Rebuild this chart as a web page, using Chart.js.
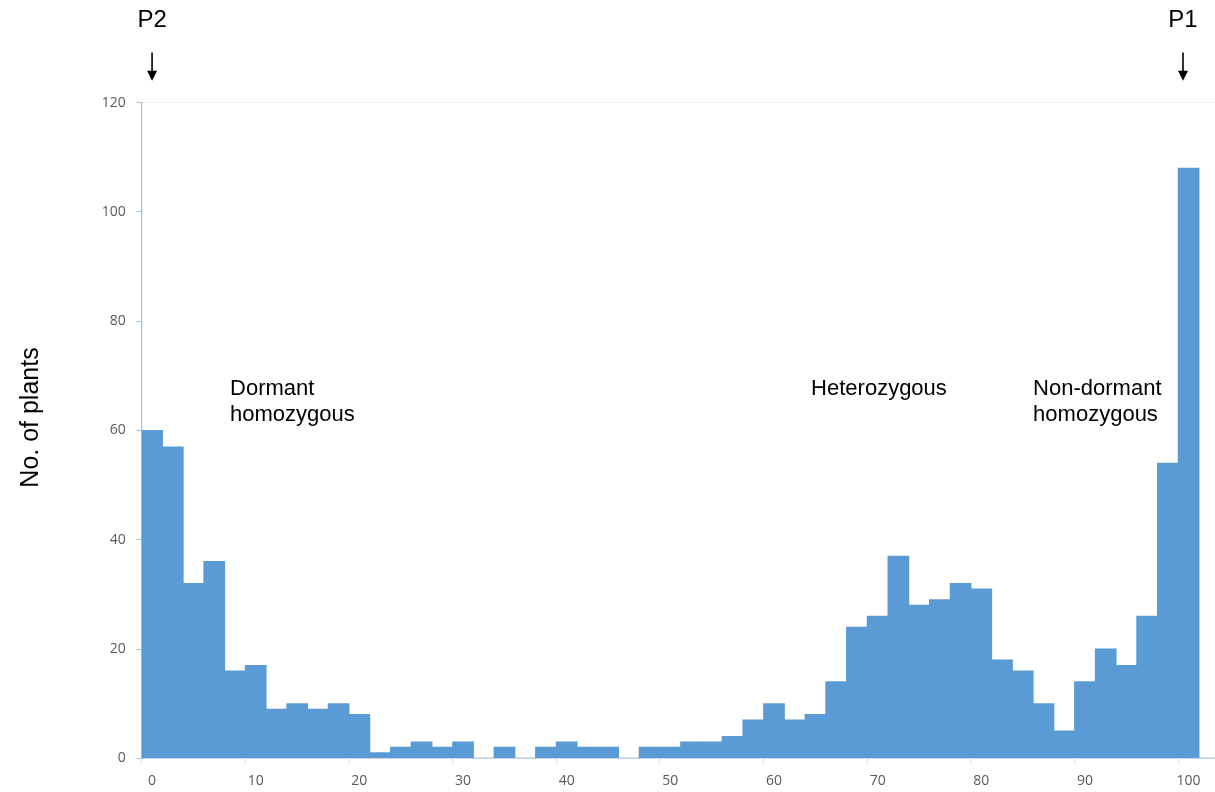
<!DOCTYPE html>
<html>
<head>
<meta charset="utf-8">
<script src="https://cdn.jsdelivr.net/npm/chart.js@4.4.1/dist/chart.umd.min.js"></script>
<style>
  html, body { margin: 0; padding: 0; background: #ffffff; overflow: hidden; }
  #wrap { width: 1230px; height: 792px; position: relative; }
</style>
</head>
<body>
<div id="wrap"><canvas id="c" width="1230" height="792"></canvas></div>
<script>
// Histogram bins (Excel-style, width 2) plus the trailing "More" bin
const categories = ['0','2','4','6','8','10','12','14','16','18','20','22','24','26','28','30','32','34','36','38','40','42','44','46','48','50','52','54','56','58','60','62','64','66','68','70','72','74','76','78','80','82','84','86','88','90','92','94','96','98','100','More'];
const plantCounts = [60,57,32,36,16,17,9,10,9,10,8,1,2,3,2,3,0,2,0,2,3,2,2,0,2,2,3,3,4,7,10,7,8,14,24,26,37,28,29,32,31,18,16,10,5,14,20,17,26,54,108,0];
const xTickLabels = ['0','10','20','30','40','50','60','70','80','90','100'];
const yTicks = [0,20,40,60,80,100,120];
const yTitle = 'No. of plants';
// annotation texts anchored in data space (category index, count)
const regionLabels = [
  { lines: ['Dormant', 'homozygous'], at: 3.76, y: 67.6 },
  { lines: ['Heterozygous'], at: 31.79, y: 67.6 },
  { lines: ['Non-dormant', 'homozygous'], at: 42.5, y: 67.6 }
];
const parentMarks = [
  { text: 'P2', at: 0 },
  { text: 'P1', at: 49.73 }
];

const annotate = {
  id: 'annotate',
  afterDraw(chart) {
    const ctx = chart.ctx, xs = chart.scales.x, ys = chart.scales.y;
    ctx.save();
    ctx.fillStyle = '#000';
    ctx.font = '22px "Liberation Sans", Arial, sans-serif';
    ctx.textAlign = 'left';
    ctx.textBaseline = 'middle';
    regionLabels.forEach(r => {
      const x = xs.getPixelForValue(r.at);
      const y0 = ys.getPixelForValue(r.y);
      r.lines.forEach((t, i) => ctx.fillText(t, x, y0 + i * 26));
    });
    parentMarks.forEach(p => {
      const x = xs.getPixelForValue(p.at);
      ctx.font = '24px "Liberation Sans", Arial, sans-serif';
      ctx.textAlign = 'center';
      ctx.fillStyle = '#000';
      ctx.fillText(p.text, x, ys.getPixelForValue(135.1));
      const yA = ys.getPixelForValue(129.2), yB = ys.getPixelForValue(124.0);
      ctx.strokeStyle = '#000';
      ctx.lineWidth = 1.6;
      ctx.beginPath(); ctx.moveTo(x, yA); ctx.lineTo(x, yB - 8); ctx.stroke();
      ctx.beginPath(); ctx.moveTo(x - 5, yB - 10); ctx.lineTo(x + 5, yB - 10); ctx.lineTo(x, yB); ctx.closePath(); ctx.fill();
    });
    // y title
    ctx.font = '25px "Liberation Sans", Arial, sans-serif';
    ctx.textAlign = 'center';
    ctx.translate(31, (ys.top + ys.bottom) / 2 - 13);
    ctx.rotate(-Math.PI / 2);
    ctx.fillText(yTitle, 0, 0);
    ctx.restore();
  }
};

new Chart(document.getElementById('c'), {
  type: 'bar',
  data: {
    labels: categories,
    datasets: [{
      data: plantCounts,
      backgroundColor: '#5b9bd5',
      borderWidth: 0,
      inflateAmount: 0.5,
      categoryPercentage: 1.0,
      barPercentage: 1.0
    }]
  },
  options: {
    responsive: false,
    animation: false,
    devicePixelRatio: 1,
    layout: { padding: { left: 0, top: 102.7, right: 10.3, bottom: 0 } },
    plugins: { legend: { display: false }, tooltip: { enabled: false } },
    scales: {
      x: {
        type: 'category',
        offset: true,
        afterFit(s) { s.height = 33.7; },
        border: { color: '#d9dde3', width: 1 },
        grid: {
          offset: true,
          drawOnChartArea: false,
          drawTicks: true,
          tickLength: 5,
          tickColor: (c) => (c.index % 5 === 0 && c.index <= 50) ? '#d9dde3' : 'rgba(0,0,0,0)'
        },
        ticks: {
          autoSkip: false,
          maxRotation: 0,
          padding: 9,
          color: '#595959',
          font: { family: '"Open Sans", sans-serif', size: 14 },
          callback: (v, i) => (i % 5 === 0 && xTickLabels.includes(categories[i])) ? categories[i] : ''
        }
      },
      y: {
        min: 0,
        max: 120,
        afterFit(s) { s.width = 141.7; },
        afterBuildTicks(s) { s.ticks = yTicks.map(v => ({ value: v })); },
        border: { color: '#9dc3e6', width: 1.2 },
        grid: {
          drawOnChartArea: true,
          tickLength: 5,
          color: (c) => (c.tick && c.tick.value === 120) ? '#eef2f7' : 'rgba(0,0,0,0)',
          tickColor: '#9dc3e6'
        },
        ticks: {
          padding: 11,
          color: '#595959',
          font: { family: '"Open Sans", sans-serif', size: 14 }
        }
      }
    }
  },
  plugins: [annotate]
});
</script>
</body>
</html>
